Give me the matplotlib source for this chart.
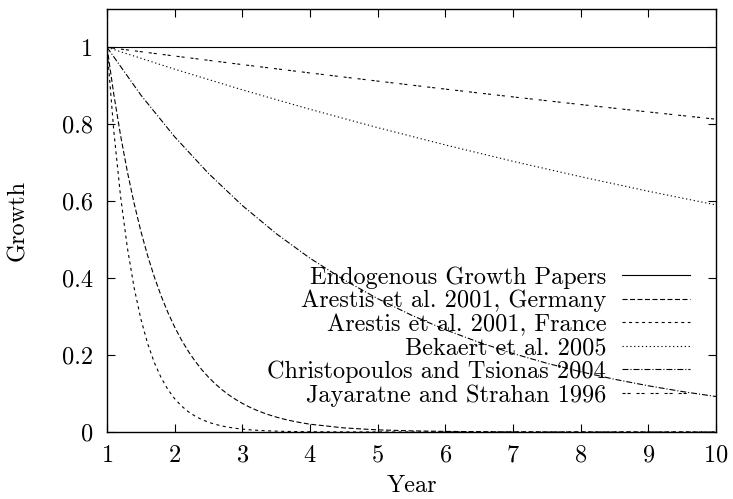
import matplotlib
matplotlib.use("Agg")
import matplotlib.pyplot as plt

plt.rcParams['font.family'] = 'serif'
plt.rcParams['font.serif'] = ['cmr10']
plt.rcParams['axes.formatter.use_mathtext'] = True
plt.rcParams['lines.scale_dashes'] = False

# Data
years_yearly = [1, 2, 3, 4, 5, 6, 7, 8, 9, 10]
years_half = [1.0, 1.5, 2.0, 2.5, 3.0, 3.5, 4.0, 4.5, 5.0, 5.5, 6.0, 6.5, 7.0,
              7.5, 8.0, 8.5, 9.0, 9.5, 10.0]
years_fine = [1.0, 1.1, 1.2, 1.3, 1.4, 1.5, 1.6, 1.7, 1.8, 1.9, 2.0, 2.1, 2.2,
              2.3, 2.4, 2.5, 2.6, 2.7, 2.8, 2.9, 3.0, 3.1, 3.2, 3.3, 3.4, 3.5,
              3.6, 3.7, 3.8, 3.9, 4.0, 4.5, 5.0, 5.5, 6.0, 6.5, 7.0, 7.5, 8.0,
              8.5, 9.0, 9.5, 10.0]

endogenous = [1, 1, 1, 1, 1, 1, 1, 1, 1, 1]
germany = [1.0, 0.8781, 0.7711, 0.6771, 0.5945, 0.5220, 0.4584, 0.4025, 0.3535,
           0.3104, 0.2725, 0.2393, 0.2101, 0.1845, 0.1620, 0.1423, 0.1249,
           0.1097, 0.0963, 0.0846, 0.0743, 0.0652, 0.0573, 0.0503, 0.0442,
           0.0388, 0.0340, 0.0299, 0.0263, 0.0231, 0.0202, 0.0106, 0.0055,
           0.0029, 0.0015, 0.0008, 0.0004, 0.0002, 0.0001, 0.0001, 0.0, 0.0, 0.0]
france = [1.0, 0.7827, 0.6126, 0.4795, 0.3753, 0.2938, 0.2299, 0.1800, 0.1409,
          0.1103, 0.0863, 0.0676, 0.0529, 0.0414, 0.0324, 0.0254, 0.0198,
          0.0155, 0.0122, 0.0095, 0.0074, 0.0058, 0.0046, 0.0036, 0.0028,
          0.0022, 0.0017, 0.0013, 0.0010, 0.0008, 0.0006, 0.0002, 0.0001,
          0.0, 0.0, 0.0, 0.0, 0.0, 0.0, 0.0, 0.0, 0.0, 0.0]
bekaert = [1.0, 0.9431, 0.8894, 0.8388, 0.7911, 0.7461, 0.7036, 0.6636, 0.6258, 0.5902]
christopoulos = [1.0, 0.8759, 0.7672, 0.6720, 0.5886, 0.5156, 0.4516, 0.3956,
                 0.3465, 0.3035, 0.2658, 0.2329, 0.2039, 0.1786, 0.1565, 0.1370,
                 0.1200, 0.1051, 0.0921]
jayaratne = [1.0, 0.9773, 0.9550, 0.9333, 0.9121, 0.8913, 0.8710, 0.8512, 0.8319, 0.8130]

labels = ["Endogenous Growth Papers", "Arestis et al. 2001, Germany",
          "Arestis et al. 2001, France", "Bekaert et al. 2005",
          "Christopoulos and Tsionas 2004", "Jayaratne and Strahan 1996"]

fs = 17.5
fig = plt.figure(figsize=(7.33, 4.99), dpi=100)
ax = fig.add_axes([0.146, 0.1343, 0.831, 0.848])

lw = 0.8
ax.plot(years_yearly, endogenous, color='black', lw=lw, label=labels[0])
ax.plot(years_fine, germany, color='black', lw=lw, dashes=(3.6, 1.8), label=labels[1])
ax.plot(years_fine, france, color='black', lw=lw, dashes=(2.2, 2.5), label=labels[2])
ax.plot(years_yearly, bekaert, color='black', lw=lw, dashes=(0.9, 1.9), label=labels[3])
ax.plot(years_half, christopoulos, color='black', lw=lw, dashes=(4.3, 1.4, 0.8, 1.4), label=labels[4])
ax.plot(years_yearly, jayaratne, color='black', lw=lw, dashes=(2.2, 1.4, 2.2, 4.3), label=labels[5])

ax.set_xlim(1, 10)
ax.set_ylim(0, 1.1)
ax.set_xticks([1, 2, 3, 4, 5, 6, 7, 8, 9, 10])
ax.set_yticks([0, 0.2, 0.4, 0.6, 0.8, 1])
ax.set_yticklabels(["0", "0.2", "0.4", "0.6", "0.8", "1"])
ax.tick_params(direction='in', length=5.5, width=0.8, top=True, right=True,
               labelsize=fs)
ax.tick_params(axis='y', pad=10)
ax.tick_params(axis='x', pad=9)
for s in ax.spines.values():
    s.set_linewidth(1.0)

ax.set_xlabel("Year", fontsize=fs)
ax.set_ylabel("Growth", fontsize=fs)
ax.xaxis.set_label_coords(0.5, -0.102)
ax.yaxis.set_label_coords(-0.128, 0.5)

leg = ax.legend(loc='lower right', bbox_to_anchor=(0.957, 0.06), frameon=False,
                markerfirst=False, fontsize=fs, handlelength=2.8,
                handletextpad=0.64, labelspacing=0.05, borderaxespad=0,
                borderpad=0)

fig.savefig("out.png", dpi=100)
